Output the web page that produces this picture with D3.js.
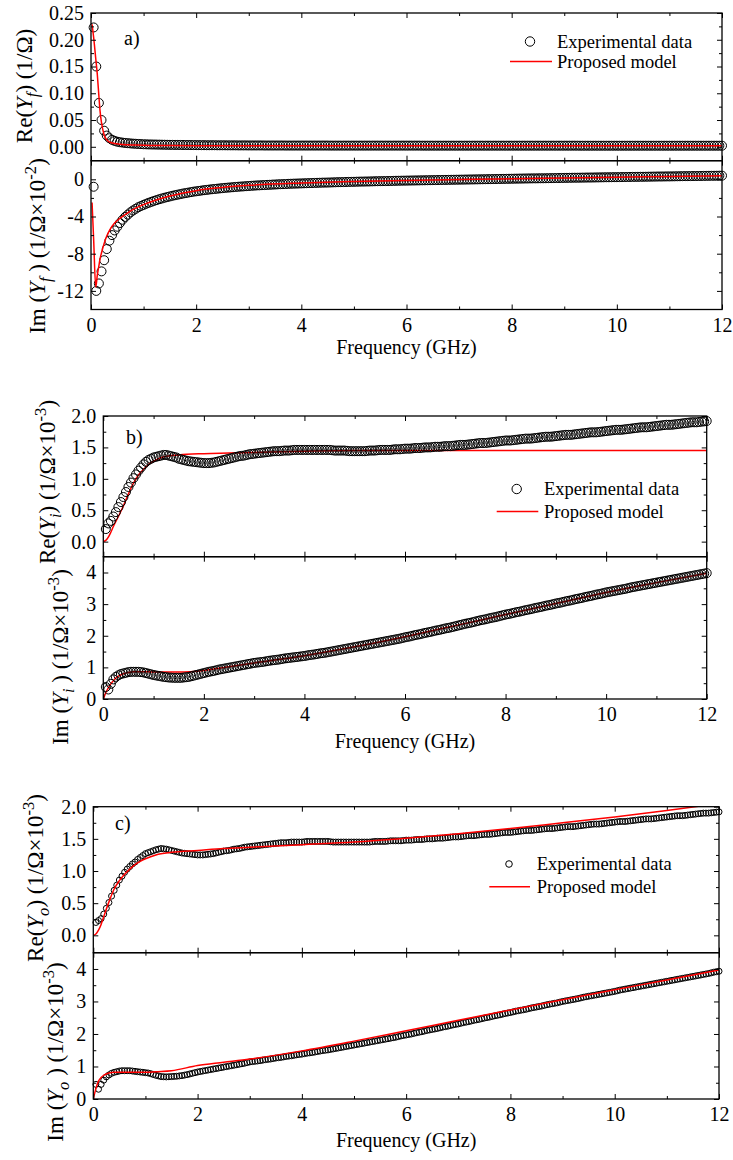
<!DOCTYPE html>
<html>
<head>
<meta charset="utf-8">
<script src="https://cdn.jsdelivr.net/npm/d3@7"></script>
<style>
  body { margin: 0; background: #fff; }
  svg text { font-family: "Liberation Serif", "Times New Roman", serif; fill: #000; }
</style>
</head>
<body>
<svg id="fig" width="733" height="1160"></svg>
<script>
// ---- measurement sweep (GHz), one row per GHz ----
const freqGHz = [
  0.05,0.10,0.15,0.20,0.25,0.30,0.35,0.40,0.45,0.50,0.55,0.60,0.65,0.70,0.75,0.80,0.85,0.90,0.95,1.00,
  1.05,1.10,1.15,1.20,1.25,1.30,1.35,1.40,1.45,1.50,1.55,1.60,1.65,1.70,1.75,1.80,1.85,1.90,1.95,2.00,
  2.05,2.10,2.15,2.20,2.25,2.30,2.35,2.40,2.45,2.50,2.55,2.60,2.65,2.70,2.75,2.80,2.85,2.90,2.95,3.00,
  3.05,3.10,3.15,3.20,3.25,3.30,3.35,3.40,3.45,3.50,3.55,3.60,3.65,3.70,3.75,3.80,3.85,3.90,3.95,4.00,
  4.05,4.10,4.15,4.20,4.25,4.30,4.35,4.40,4.45,4.50,4.55,4.60,4.65,4.70,4.75,4.80,4.85,4.90,4.95,5.00,
  5.05,5.10,5.15,5.20,5.25,5.30,5.35,5.40,5.45,5.50,5.55,5.60,5.65,5.70,5.75,5.80,5.85,5.90,5.95,6.00,
  6.05,6.10,6.15,6.20,6.25,6.30,6.35,6.40,6.45,6.50,6.55,6.60,6.65,6.70,6.75,6.80,6.85,6.90,6.95,7.00,
  7.05,7.10,7.15,7.20,7.25,7.30,7.35,7.40,7.45,7.50,7.55,7.60,7.65,7.70,7.75,7.80,7.85,7.90,7.95,8.00,
  8.05,8.10,8.15,8.20,8.25,8.30,8.35,8.40,8.45,8.50,8.55,8.60,8.65,8.70,8.75,8.80,8.85,8.90,8.95,9.00,
  9.05,9.10,9.15,9.20,9.25,9.30,9.35,9.40,9.45,9.50,9.55,9.60,9.65,9.70,9.75,9.80,9.85,9.90,9.95,10.00,
  10.05,10.10,10.15,10.20,10.25,10.30,10.35,10.40,10.45,10.50,10.55,10.60,10.65,10.70,10.75,10.80,10.85,10.90,10.95,11.00,
  11.05,11.10,11.15,11.20,11.25,11.30,11.35,11.40,11.45,11.50,11.55,11.60,11.65,11.70,11.75,11.80,11.85,11.90,11.95,12.00];

// Re(Yf) measured, 1/Ohm
const reYfMeas = [
  0.223,0.150,0.082,0.050,0.030,0.021,0.016,0.013,0.011,0.0095,0.0085,0.0078,0.0072,0.0067,0.0063,0.0059,0.0056,0.0053,0.0050,0.0047,
  0.0046,0.0044,0.0043,0.0042,0.0041,0.0040,0.0039,0.0038,0.0037,0.0036,0.0036,0.0035,0.0035,0.0034,0.0034,0.0033,0.0033,0.0032,0.0032,0.0031,
  0.0031,0.0030,0.0030,0.0029,0.0029,0.0029,0.0029,0.0028,0.0028,0.0028,0.0028,0.0027,0.0027,0.0027,0.0027,0.0026,0.0026,0.0026,0.0026,0.0025,
  0.0025,0.0025,0.0025,0.0025,0.0025,0.0024,0.0024,0.0024,0.0024,0.0024,0.0024,0.0024,0.0024,0.0023,0.0023,0.0023,0.0023,0.0023,0.0023,0.0023,
  0.0023,0.0023,0.0023,0.0023,0.0023,0.0023,0.0023,0.0023,0.0023,0.0023,0.0022,0.0022,0.0022,0.0022,0.0022,0.0022,0.0022,0.0022,0.0022,0.0022,
  0.0022,0.0022,0.0022,0.0022,0.0022,0.0022,0.0022,0.0022,0.0022,0.0022,0.0022,0.0022,0.0022,0.0022,0.0022,0.0022,0.0022,0.0022,0.0022,0.0022,
  0.0022,0.0022,0.0022,0.0022,0.0022,0.0021,0.0021,0.0021,0.0021,0.0021,0.0021,0.0021,0.0021,0.0021,0.0021,0.0021,0.0021,0.0021,0.0021,0.0021,
  0.0021,0.0021,0.0021,0.0021,0.0021,0.0021,0.0021,0.0021,0.0021,0.0021,0.0021,0.0021,0.0021,0.0021,0.0021,0.0021,0.0021,0.0021,0.0021,0.0021,
  0.0021,0.0021,0.0021,0.0021,0.0021,0.0021,0.0021,0.0021,0.0021,0.0021,0.0021,0.0021,0.0021,0.0021,0.0021,0.0021,0.0021,0.0021,0.0021,0.0021,
  0.0021,0.0021,0.0021,0.0021,0.0021,0.0020,0.0020,0.0020,0.0020,0.0020,0.0020,0.0020,0.0020,0.0020,0.0020,0.0020,0.0020,0.0020,0.0020,0.0020,
  0.0020,0.0020,0.0020,0.0020,0.0020,0.0020,0.0020,0.0020,0.0020,0.0020,0.0020,0.0020,0.0020,0.0020,0.0020,0.0020,0.0020,0.0020,0.0020,0.0020,
  0.0020,0.0020,0.0020,0.0020,0.0020,0.0020,0.0020,0.0020,0.0020,0.0020,0.0020,0.0020,0.0020,0.0020,0.0020,0.0020,0.0020,0.0020,0.0020,0.0020];

// Im(Yf) measured, 1/Ohm x 1e-2
const imYfMeas = [
  -0.8,-12.0,-11.2,-9.9,-8.7,-7.5,-6.6,-6.0,-5.5,-5.1,-4.7,-4.35,-4.05,-3.8,-3.55,-3.35,-3.17,-3.0,-2.87,-2.75,
  -2.63,-2.52,-2.42,-2.32,-2.23,-2.14,-2.06,-1.98,-1.91,-1.84,-1.77,-1.71,-1.65,-1.59,-1.53,-1.48,-1.43,-1.38,-1.33,-1.29,
  -1.25,-1.21,-1.17,-1.14,-1.10,-1.07,-1.04,-1.01,-0.98,-0.95,-0.92,-0.90,-0.87,-0.85,-0.82,-0.80,-0.78,-0.76,-0.74,-0.72,
  -0.70,-0.68,-0.66,-0.65,-0.63,-0.62,-0.60,-0.59,-0.57,-0.56,-0.54,-0.53,-0.52,-0.51,-0.49,-0.48,-0.47,-0.46,-0.45,-0.44,
  -0.43,-0.42,-0.41,-0.40,-0.39,-0.38,-0.37,-0.36,-0.355,-0.35,-0.34,-0.33,-0.32,-0.31,-0.305,-0.30,-0.29,-0.28,-0.275,-0.27,
  -0.26,-0.25,-0.245,-0.24,-0.235,-0.23,-0.22,-0.21,-0.205,-0.20,-0.195,-0.19,-0.185,-0.18,-0.17,-0.16,-0.155,-0.15,-0.145,-0.14,
  -0.135,-0.13,-0.125,-0.12,-0.115,-0.11,-0.105,-0.10,-0.095,-0.09,-0.085,-0.08,-0.075,-0.07,-0.065,-0.06,-0.055,-0.05,-0.045,-0.04,
  -0.035,-0.03,-0.025,-0.02,-0.015,-0.01,-0.005,0.00,0.005,0.01,0.015,0.02,0.025,0.03,0.035,0.04,0.045,0.05,0.055,0.06,
  0.065,0.07,0.075,0.08,0.085,0.09,0.095,0.10,0.10,0.105,0.11,0.11,0.115,0.12,0.125,0.13,0.135,0.14,0.145,0.15,
  0.155,0.16,0.165,0.17,0.17,0.175,0.18,0.185,0.19,0.19,0.195,0.20,0.205,0.21,0.215,0.22,0.22,0.225,0.23,0.23,
  0.235,0.24,0.245,0.25,0.255,0.26,0.26,0.265,0.27,0.27,0.275,0.28,0.285,0.29,0.295,0.30,0.30,0.305,0.31,0.31,
  0.315,0.32,0.325,0.33,0.335,0.34,0.34,0.345,0.35,0.35,0.355,0.36,0.365,0.37,0.375,0.38,0.38,0.385,0.39,0.39];

// Re(Yi) measured, 1/Ohm x 1e-3
const reYiMeas = [
  0.20,0.29,0.33,0.40,0.47,0.55,0.63,0.71,0.79,0.87,0.94,1.01,1.07,1.13,1.18,1.23,1.27,1.30,1.32,1.34,
  1.35,1.36,1.37,1.38,1.38,1.37,1.36,1.35,1.34,1.32,1.31,1.30,1.29,1.28,1.275,1.27,1.265,1.26,1.255,1.25,
  1.25,1.25,1.255,1.26,1.27,1.28,1.29,1.30,1.31,1.32,1.33,1.34,1.35,1.36,1.365,1.37,1.38,1.39,1.395,1.40,
  1.405,1.41,1.415,1.42,1.425,1.43,1.435,1.44,1.44,1.44,1.445,1.45,1.45,1.45,1.455,1.46,1.46,1.46,1.46,1.46,
  1.46,1.46,1.46,1.46,1.46,1.46,1.46,1.46,1.46,1.46,1.455,1.45,1.45,1.45,1.45,1.45,1.445,1.44,1.44,1.44,
  1.44,1.44,1.44,1.44,1.445,1.45,1.45,1.45,1.455,1.46,1.46,1.46,1.46,1.46,1.465,1.47,1.47,1.47,1.475,1.48,
  1.48,1.48,1.485,1.49,1.49,1.49,1.495,1.50,1.50,1.50,1.505,1.51,1.51,1.51,1.515,1.52,1.52,1.52,1.525,1.53,
  1.535,1.54,1.54,1.54,1.545,1.55,1.555,1.56,1.565,1.57,1.57,1.57,1.575,1.58,1.585,1.59,1.595,1.60,1.605,1.61,
  1.61,1.61,1.615,1.62,1.625,1.63,1.635,1.64,1.64,1.64,1.645,1.65,1.655,1.66,1.665,1.67,1.67,1.67,1.675,1.68,
  1.685,1.69,1.695,1.70,1.70,1.70,1.705,1.71,1.715,1.72,1.725,1.73,1.735,1.74,1.74,1.74,1.745,1.75,1.755,1.76,
  1.765,1.77,1.775,1.78,1.78,1.78,1.785,1.79,1.795,1.80,1.805,1.81,1.815,1.82,1.82,1.82,1.825,1.83,1.835,1.84,
  1.845,1.85,1.855,1.86,1.86,1.86,1.865,1.87,1.875,1.88,1.885,1.89,1.895,1.90,1.90,1.90,1.905,1.91,1.915,1.92];

// Im(Yi) measured, 1/Ohm x 1e-3
const imYiMeas = [
  0.38,0.30,0.48,0.62,0.70,0.75,0.79,0.81,0.83,0.85,0.86,0.86,0.86,0.86,0.85,0.84,0.82,0.80,0.78,0.76,
  0.745,0.73,0.715,0.70,0.69,0.68,0.675,0.67,0.67,0.67,0.67,0.68,0.69,0.70,0.72,0.74,0.76,0.78,0.80,0.82,
  0.84,0.86,0.875,0.89,0.91,0.93,0.945,0.96,0.975,0.99,1.005,1.02,1.035,1.05,1.065,1.08,1.095,1.11,1.125,1.14,
  1.15,1.16,1.17,1.18,1.195,1.21,1.22,1.23,1.24,1.25,1.265,1.28,1.29,1.30,1.31,1.32,1.33,1.34,1.35,1.36,
  1.375,1.39,1.40,1.41,1.425,1.44,1.45,1.46,1.475,1.49,1.505,1.52,1.535,1.55,1.565,1.58,1.595,1.61,1.625,1.64,
  1.655,1.67,1.685,1.70,1.715,1.73,1.745,1.76,1.775,1.79,1.805,1.82,1.835,1.85,1.865,1.88,1.895,1.91,1.93,1.95,
  1.965,1.98,2.00,2.02,2.035,2.05,2.07,2.09,2.105,2.12,2.14,2.16,2.175,2.19,2.21,2.23,2.245,2.26,2.28,2.30,
  2.32,2.34,2.36,2.38,2.395,2.41,2.43,2.45,2.47,2.49,2.505,2.52,2.54,2.56,2.575,2.59,2.61,2.63,2.65,2.67,
  2.685,2.70,2.72,2.74,2.755,2.77,2.79,2.81,2.825,2.84,2.86,2.88,2.895,2.91,2.93,2.95,2.965,2.98,3.00,3.02,
  3.035,3.05,3.07,3.09,3.105,3.12,3.14,3.16,3.175,3.19,3.21,3.23,3.245,3.26,3.28,3.30,3.315,3.33,3.35,3.37,
  3.385,3.40,3.415,3.43,3.445,3.46,3.475,3.49,3.51,3.53,3.545,3.56,3.575,3.59,3.605,3.62,3.635,3.65,3.665,3.68,
  3.695,3.71,3.725,3.74,3.755,3.77,3.785,3.80,3.815,3.83,3.845,3.86,3.875,3.89,3.905,3.92,3.935,3.95,3.965,3.98];

// Re(Yo) measured, 1/Ohm x 1e-3
const reYoMeas = [
  0.20,0.23,0.26,0.33,0.42,0.51,0.61,0.70,0.78,0.86,0.92,0.98,1.03,1.07,1.11,1.14,1.18,1.21,1.24,1.27,
  1.285,1.30,1.315,1.33,1.34,1.35,1.345,1.34,1.33,1.32,1.31,1.30,1.29,1.28,1.275,1.27,1.265,1.26,1.255,1.25,
  1.25,1.25,1.255,1.26,1.265,1.27,1.28,1.29,1.30,1.31,1.315,1.32,1.33,1.34,1.345,1.35,1.36,1.37,1.375,1.38,
  1.385,1.39,1.395,1.40,1.405,1.41,1.415,1.42,1.425,1.43,1.435,1.44,1.44,1.44,1.445,1.45,1.45,1.45,1.45,1.45,
  1.455,1.46,1.46,1.46,1.46,1.46,1.46,1.46,1.46,1.46,1.455,1.45,1.45,1.45,1.45,1.45,1.45,1.45,1.45,1.45,
  1.45,1.45,1.45,1.45,1.45,1.45,1.455,1.46,1.46,1.46,1.46,1.46,1.465,1.47,1.47,1.47,1.47,1.47,1.475,1.48,
  1.48,1.48,1.485,1.49,1.49,1.49,1.495,1.50,1.50,1.50,1.505,1.51,1.51,1.51,1.515,1.52,1.525,1.53,1.53,1.53,
  1.535,1.54,1.545,1.55,1.55,1.55,1.555,1.56,1.565,1.57,1.57,1.57,1.575,1.58,1.585,1.59,1.595,1.60,1.60,1.60,
  1.605,1.61,1.615,1.62,1.625,1.63,1.63,1.63,1.635,1.64,1.645,1.65,1.655,1.66,1.66,1.66,1.665,1.67,1.675,1.68,
  1.685,1.69,1.69,1.69,1.695,1.70,1.705,1.71,1.715,1.72,1.725,1.73,1.73,1.73,1.735,1.74,1.745,1.75,1.755,1.76,
  1.765,1.77,1.77,1.77,1.775,1.78,1.785,1.79,1.795,1.80,1.805,1.81,1.81,1.81,1.815,1.82,1.825,1.83,1.835,1.84,
  1.845,1.85,1.855,1.86,1.86,1.86,1.865,1.87,1.875,1.88,1.885,1.89,1.895,1.90,1.90,1.90,1.905,1.91,1.915,1.92];

// Im(Yo) measured, 1/Ohm x 1e-3
const imYoMeas = [
  0.45,0.30,0.45,0.58,0.68,0.74,0.79,0.82,0.84,0.86,0.87,0.87,0.87,0.87,0.86,0.85,0.84,0.83,0.82,0.81,
  0.80,0.78,0.755,0.73,0.71,0.69,0.685,0.68,0.685,0.69,0.695,0.70,0.71,0.72,0.735,0.75,0.77,0.79,0.81,0.83,
  0.845,0.86,0.875,0.89,0.905,0.92,0.935,0.95,0.965,0.98,0.995,1.01,1.025,1.04,1.055,1.07,1.085,1.10,1.12,1.14,
  1.15,1.16,1.17,1.18,1.195,1.21,1.22,1.23,1.245,1.26,1.27,1.28,1.295,1.31,1.32,1.33,1.345,1.36,1.37,1.38,
  1.395,1.41,1.42,1.43,1.445,1.46,1.475,1.49,1.50,1.51,1.525,1.54,1.555,1.57,1.585,1.60,1.615,1.63,1.645,1.66,
  1.675,1.69,1.705,1.72,1.735,1.75,1.765,1.78,1.795,1.81,1.825,1.84,1.855,1.87,1.885,1.90,1.92,1.94,1.955,1.97,
  1.985,2.00,2.02,2.04,2.055,2.07,2.09,2.11,2.125,2.14,2.155,2.17,2.19,2.21,2.225,2.24,2.26,2.28,2.295,2.31,
  2.33,2.35,2.365,2.38,2.40,2.42,2.435,2.45,2.47,2.49,2.505,2.52,2.54,2.56,2.575,2.59,2.61,2.63,2.645,2.66,
  2.68,2.70,2.715,2.73,2.745,2.76,2.78,2.80,2.815,2.83,2.845,2.86,2.88,2.90,2.915,2.93,2.945,2.96,2.98,3.00,
  3.015,3.03,3.045,3.06,3.075,3.09,3.11,3.13,3.145,3.16,3.175,3.19,3.205,3.22,3.235,3.25,3.265,3.28,3.295,3.31,
  3.33,3.35,3.365,3.38,3.395,3.41,3.425,3.44,3.455,3.47,3.485,3.50,3.515,3.53,3.545,3.56,3.575,3.59,3.605,3.62,
  3.635,3.65,3.665,3.68,3.695,3.71,3.725,3.74,3.755,3.77,3.785,3.80,3.815,3.83,3.845,3.86,3.88,3.90,3.915,3.93];

// ---- proposed model curves ----
const modelFreqA = [0.02,0.05,0.09,0.12,0.15,0.17,0.2,0.25,0.3,0.36,0.45,0.55,0.7,0.85,1.0,1.2,1.5,2,2.5,3,4,5,6,7,8,9,10,11,12];
const reYfModel = [0.229,0.205,0.165,0.135,0.095,0.069,0.045,0.022,0.013,0.0085,0.0062,0.0048,0.0038,0.0032,0.0028,0.0025,0.0023,0.0021,0.0021,0.0020,0.0020,0.0020,0.0020,0.0020,0.0020,0.0020,0.0020,0.0020,0.0020];
const imYfModel = [-2.5,-6.4,-11.6,-10.3,-9.3,-8.6,-7.9,-6.9,-6.1,-5.4,-4.7,-4.2,-3.6,-3.1,-2.72,-2.3,-1.8,-1.22,-0.88,-0.65,-0.4,-0.24,-0.12,-0.02,0.07,0.15,0.23,0.31,0.39];

const modelFreqBC = [0,0.05,0.1,0.15,0.2,0.3,0.4,0.5,0.6,0.7,0.8,0.9,1.0,1.2,1.5,2,2.5,3,4,5,6,7,8,9,10,11,12];
const reYiModel = [0,0.02,0.07,0.15,0.24,0.40,0.57,0.76,0.93,1.06,1.15,1.23,1.28,1.35,1.38,1.40,1.41,1.42,1.44,1.45,1.45,1.45,1.45,1.45,1.45,1.45,1.45];
const imYiModel = [0,0.2,0.35,0.48,0.58,0.72,0.80,0.84,0.86,0.86,0.86,0.86,0.85,0.85,0.85,0.90,1.02,1.14,1.37,1.65,1.97,2.32,2.67,3.02,3.37,3.68,3.98];
const reYoModel = [0,0.02,0.08,0.17,0.29,0.52,0.72,0.85,0.95,1.03,1.10,1.15,1.19,1.25,1.29,1.32,1.35,1.37,1.41,1.45,1.51,1.58,1.66,1.75,1.84,1.94,2.05];
const imYoModel = [0,0.32,0.55,0.66,0.73,0.80,0.82,0.82,0.82,0.82,0.82,0.82,0.82,0.84,0.87,1.03,1.13,1.23,1.48,1.78,2.10,2.42,2.74,3.05,3.36,3.66,3.97];

// ---- ticks and labels ----
const freqTicks = [0,2,4,6,8,10,12];
const freqMinorTicks = [1,3,5,7,9,11];
const reYfTicks = [0,0.05,0.10,0.15,0.20,0.25];
const reYfMinor = [0.025,0.075,0.125,0.175,0.225];
const imYfTicks = [-12,-8,-4,0];
const imYfMinor = [-10,-6,-2];
const reYTicks = [0,0.5,1.0,1.5,2.0];
const reYMinor = [0.25,0.75,1.25,1.75];
const imYTicks = [0,1,2,3,4];
const imYMinor = [0.5,1.5,2.5,3.5];
const legendLabels = ["Experimental data", "Proposed model"];
const panelTags = ["a)", "b)", "c)"];
const xTitle = "Frequency (GHz)";

const svg = d3.select("#fig");
svg.append("rect").attr("width", 733).attr("height", 1160).attr("fill", "#fff");

const FONT = '"Liberation Serif", "Times New Roman", serif';

// title pieces: [text, style] 0 normal, 1 italic, 2 italic subscript, 3 superscript
const panels = [
  { tag: panelTags[0], left: 91, right: 722, top: 13, mid: 160.7, bottom: 309.5,
    r: 4.5, modelOnTop: true, tagX: 124, tagY: 45, xTitleY: 354,
    legend: { mx: 530, lx1: 510, lx2: 552, tx: 557, y1: 41.5, y2: 61.5, r: 4.7 },
    upper: { domain: [-0.026, 0.25], major: reYfTicks, minor: reYfMinor, fmt: d3.format(".2f"),
             meas: reYfMeas, mf: modelFreqA, model: reYfModel,
             title: [["Re(",0],["Y",1],["f",2],[") (1/\u03A9)",0]], tx: 32, ty: 86 },
    lower: { domain: [-14, 2], major: imYfTicks, minor: imYfMinor, fmt: d => String(d),
             meas: imYfMeas, mf: modelFreqA, model: imYfModel,
             title: [["Im (",0],["Y",1],["f",2],[" ) (1/\u03A9\u00D710",0],["-2",3],[")",0]], tx: 45, ty: 246 } },
  { tag: panelTags[1], left: 103.3, right: 706.7, top: 416, mid: 556.7, bottom: 699,
    r: 4.5, modelOnTop: false, tagX: 126, tagY: 444, xTitleY: 748,
    legend: { mx: 516.7, lx1: 496.7, lx2: 538.3, tx: 544, y1: 489, y2: 511.5, r: 4.7 },
    upper: { domain: [-0.24, 2.0], major: reYTicks, minor: reYMinor, fmt: d3.format(".1f"),
             meas: reYiMeas, mf: modelFreqBC, model: reYiModel,
             title: [["Re(",0],["Y",1],["i",2],[") (1/\u03A9\u00D710",0],["-3",3],[")",0]], tx: 55, ty: 482 },
    lower: { domain: [0, 4.5], major: imYTicks, minor: imYMinor, fmt: d => String(d),
             meas: imYiMeas, mf: modelFreqBC, model: imYiModel,
             title: [["Im (",0],["Y",1],["i",2],[" ) (1/\u03A9\u00D710",0],["-3",3],[")",0]], tx: 68, ty: 657 } },
  { tag: panelTags[2], left: 93.3, right: 719, top: 806.7, mid: 952.7, bottom: 1099,
    r: 3, modelOnTop: true, tagX: 115, tagY: 830, xTitleY: 1147,
    legend: { mx: 509, lx1: 489.3, lx2: 530, tx: 536.7, y1: 864, y2: 886.7, r: 3.3 },
    upper: { domain: [-0.27, 2.0], major: reYTicks, minor: reYMinor, fmt: d3.format(".1f"),
             meas: reYoMeas, mf: modelFreqBC, model: reYoModel,
             title: [["Re(",0],["Y",1],["o",2],[") (1/\u03A9\u00D710",0],["-3",3],[")",0]], tx: 43, ty: 878 },
    lower: { domain: [0, 4.5], major: imYTicks, minor: imYMinor, fmt: d => String(d),
             meas: imYoMeas, mf: modelFreqBC, model: imYoModel,
             title: [["Im (",0],["Y",1],["o",2],[" ) (1/\u03A9\u00D710",0],["-3",3],[")",0]], tx: 63, ty: 1052 } }
];

const TITLE_SIZE = 23, TICK_SIZE = 20, LEGEND_SIZE = 18.5;
let clipId = 0;

function styleAxis(g) {
  g.attr("font-family", null).attr("font-size", null);
  g.select(".domain").remove();
  g.selectAll(".tick line").attr("stroke", "#000").attr("stroke-width", 1);
  g.selectAll(".tick text").attr("fill", "#000")
    .style("font-family", FONT).style("font-size", TICK_SIZE + "px");
}

function drawTitle(spec) {
  const t = svg.append("text")
    .attr("transform", `translate(${spec.tx},${spec.ty}) rotate(-90)`)
    .attr("text-anchor", "middle")
    .style("font-family", FONT).style("font-size", TITLE_SIZE + "px");
  let shift = 0;
  spec.title.forEach(([txt, kind]) => {
    const s = t.append("tspan").text(txt);
    let target = 0;
    if (kind === 1 || kind === 2) s.style("font-style", "italic");
    if (kind === 2) { target = 6; s.style("font-size", (TITLE_SIZE * 0.72) + "px"); }
    if (kind === 3) { target = -9; s.style("font-size", (TITLE_SIZE * 0.72) + "px"); }
    if (target !== shift) { s.attr("dy", target - shift); shift = target; }
  });
}

function drawSubplot(p, spec, y0, y1, isLower) {
  const x = d3.scaleLinear().domain([0, 12]).range([p.left, p.right]);
  const y = d3.scaleLinear().domain(spec.domain).range([y1, y0]);
  const w = p.right - p.left, h = y1 - y0;
  const g = svg.append("g");

  const cid = "clip" + (clipId++);
  svg.append("clipPath").attr("id", cid).append("rect")
    .attr("x", p.left).attr("y", y0).attr("width", w).attr("height", h);

  const line = d3.line().x(d => x(d[0])).y(d => y(d[1])).curve(d3.curveMonotoneX);
  const modelPts = spec.mf.map((f, i) => [f, spec.model[i]]);
  const measPts = freqGHz.map((f, i) => [f, spec.meas[i]]).filter(d => d[1] != null);

  const drawModel = () => g.append("path").datum(modelPts)
    .attr("clip-path", `url(#${cid})`)
    .attr("d", line).attr("fill", "none").attr("stroke", "#ff0000").attr("stroke-width", 1.5);
  const drawMeas = () => g.append("g").selectAll("circle").data(measPts).join("circle")
    .attr("cx", d => x(d[0])).attr("cy", d => y(d[1])).attr("r", p.r)
    .attr("fill", "none").attr("stroke", "#000").attr("stroke-width", 1);

  if (p.modelOnTop) { drawMeas(); drawModel(); } else { drawModel(); drawMeas(); }

  // inward ticks on all four sides
  const bottomMajor = d3.axisBottom(x).tickValues(freqTicks).tickSizeInner(-5).tickSizeOuter(0).tickPadding(8)
    .tickFormat(isLower ? d => String(d) : () => "");
  svg.append("g").attr("transform", `translate(0,${y1})`).call(bottomMajor).call(styleAxis);
  svg.append("g").attr("transform", `translate(0,${y1})`)
    .call(d3.axisBottom(x).tickValues(freqMinorTicks).tickSizeInner(-3).tickSizeOuter(0).tickFormat(() => ""))
    .call(styleAxis);
  svg.append("g").attr("transform", `translate(0,${y0})`)
    .call(d3.axisTop(x).tickValues(freqTicks).tickSizeInner(-5).tickSizeOuter(0).tickFormat(() => ""))
    .call(styleAxis);
  svg.append("g").attr("transform", `translate(0,${y0})`)
    .call(d3.axisTop(x).tickValues(freqMinorTicks).tickSizeInner(-3).tickSizeOuter(0).tickFormat(() => ""))
    .call(styleAxis);

  svg.append("g").attr("transform", `translate(${p.left},0)`)
    .call(d3.axisLeft(y).tickValues(spec.major).tickSizeInner(-5).tickSizeOuter(0).tickPadding(7).tickFormat(spec.fmt))
    .call(styleAxis);
  svg.append("g").attr("transform", `translate(${p.left},0)`)
    .call(d3.axisLeft(y).tickValues(spec.minor).tickSizeInner(-3).tickSizeOuter(0).tickFormat(() => ""))
    .call(styleAxis);
  svg.append("g").attr("transform", `translate(${p.right},0)`)
    .call(d3.axisRight(y).tickValues(spec.major).tickSizeInner(-5).tickSizeOuter(0).tickFormat(() => ""))
    .call(styleAxis);
  svg.append("g").attr("transform", `translate(${p.right},0)`)
    .call(d3.axisRight(y).tickValues(spec.minor).tickSizeInner(-3).tickSizeOuter(0).tickFormat(() => ""))
    .call(styleAxis);

  svg.append("rect").attr("x", p.left).attr("y", y0).attr("width", w).attr("height", h)
    .attr("fill", "none").attr("stroke", "#000").attr("stroke-width", 1.3);

  drawTitle(spec);
}

panels.forEach(p => {
  drawSubplot(p, p.upper, p.top, p.mid, false);
  drawSubplot(p, p.lower, p.mid, p.bottom, true);

  svg.append("text").attr("x", p.tagX).attr("y", p.tagY)
    .style("font-family", FONT).style("font-size", "20px").text(p.tag);

  svg.append("text").attr("x", (p.left + p.right) / 2).attr("y", p.xTitleY)
    .attr("text-anchor", "middle")
    .style("font-family", FONT).style("font-size", "20px").text(xTitle);

  const L = p.legend;
  svg.append("circle").attr("cx", L.mx).attr("cy", L.y1).attr("r", L.r)
    .attr("fill", "none").attr("stroke", "#000").attr("stroke-width", 1);
  svg.append("line").attr("x1", L.lx1).attr("x2", L.lx2).attr("y1", L.y2).attr("y2", L.y2)
    .attr("stroke", "#ff0000").attr("stroke-width", 1.5);
  [L.y1, L.y2].forEach((yy, i) => {
    svg.append("text").attr("x", L.tx).attr("y", yy).attr("dy", "0.33em")
      .style("font-family", FONT).style("font-size", LEGEND_SIZE + "px").text(legendLabels[i]);
  });
});
</script>
</body>
</html>
